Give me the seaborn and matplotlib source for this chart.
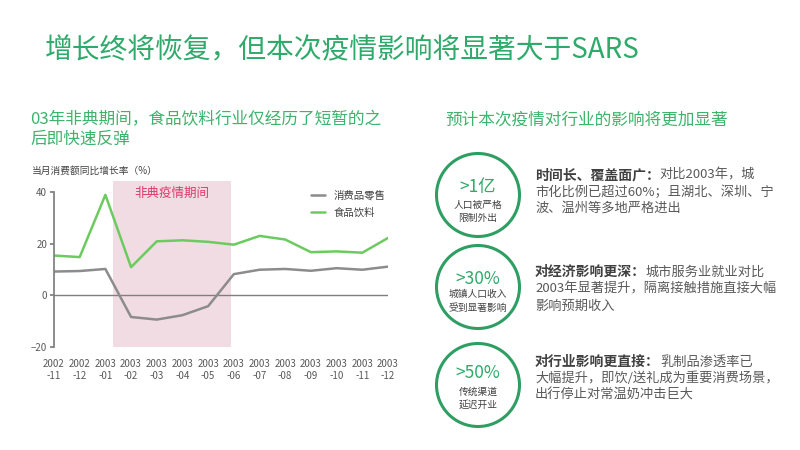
import pandas as pd
import matplotlib.pyplot as plt
import seaborn as sns
from matplotlib.patches import Circle

# 数据：当月消费额同比增长率（%）
months = ['2002\n-11', '2002\n-12', '2003\n-01', '2003\n-02', '2003\n-03', '2003\n-04', '2003\n-05',
          '2003\n-06', '2003\n-07', '2003\n-08', '2003\n-09', '2003\n-10', '2003\n-11', '2003\n-12']
retail = [9.2, 9.4, 10.2, -8.4, -9.4, -7.7, -4.2, 8.2, 9.9, 10.2, 9.5, 10.5, 9.9, 11.1]
food = [15.4, 14.8, 38.9, 10.9, 20.9, 21.3, 20.7, 19.6, 23.0, 21.6, 16.7, 17.0, 16.5, 22.2]
series_names = ['消费品零售', '食品饮料']
sars_period = (2.3, 6.9)

GREEN = '#2EAA6A'
DARK = '#404040'
GREY = '#595959'

sns.set_theme(style='white')
plt.rcParams['font.family'] = ['Noto Sans CJK SC', 'DejaVu Sans']

fig = plt.figure(figsize=(8, 4.5), dpi=100)

# 背景层（像素坐标）
ov = fig.add_axes([0, 0, 1, 1])
ov.set_xlim(0, 800)
ov.set_ylim(450, 0)
ov.axis('off')

# 折线图
ax = fig.add_axes([0.0675, 0.229, 0.4175, 0.369])
ax.patch.set_alpha(0)
x = list(range(len(months)))
df = pd.DataFrame({
    '月份': x * 2,
    '增长率': retail + food,
    '系列': [series_names[0]] * len(x) + [series_names[1]] * len(x),
})
sns.lineplot(data=df, x='月份', y='增长率', hue='系列', hue_order=series_names,
             palette={series_names[0]: '#8C8C8C', series_names[1]: '#6CCB5F'},
             linewidth=1.8, ax=ax)

ax.axvspan(*sars_period, color='#F2DCE3', zorder=0, lw=0)
ax.text(sum(sars_period) / 2, 39.5, '非典疫情期间', ha='center', va='center',
        fontsize=9, color='#D9386A', fontweight='medium')
ax.axhline(0, color='#7F7F7F', lw=1, zorder=1)

ax.set_xlim(0, len(months) - 1)
ax.set_ylim(-20, 44.3)
ax.set_yticks([-20, 0, 20, 40])
ax.set_xticks(x)
ax.set_xticklabels(months)
ax.set_xlabel('')
ax.set_ylabel('')
for s in ['top', 'right', 'bottom']:
    ax.spines[s].set_visible(False)
ax.spines['left'].set_bounds(-20, 40)
ax.spines['left'].set_color('#7F7F7F')
ax.tick_params(axis='y', left=True, length=3, color='#7F7F7F', labelsize=7, labelcolor=GREY, pad=2)
ax.tick_params(axis='x', bottom=False, labelsize=7, labelcolor=GREY, pad=3)

leg = ax.legend(loc='upper right', bbox_to_anchor=(1.02, 1.0), frameon=False, fontsize=7.5,
                handlelength=1.4, labelspacing=0.7)
for t in leg.get_texts():
    t.set_color(DARK)

# 文字
fig.text(45 / 800, 1 - 50 / 450, '增长终将恢复，但本次疫情影响将显著大于SARS',
         fontsize=20, color=GREEN, va='center')
fig.text(30 / 800, 1 - 120 / 450, '03年非典期间，食品饮料行业仅经历了短暂的之',
         fontsize=12, color='#3DB36B', va='center')
fig.text(30 / 800, 1 - 139 / 450, '后即快速反弹', fontsize=12, color='#3DB36B', va='center')
fig.text(32 / 800, 1 - 171 / 450, '当月消费额同比增长率（%）', fontsize=7, color=DARK, va='center')
fig.text(445 / 800, 1 - 120 / 450, '预计本次疫情对行业的影响将更加显著',
         fontsize=12, color='#3DB36B', va='center')

# 右侧三个要点
points = [
    dict(cy=195, big='>1亿', small=['人口被严格', '限制外出'], sy=[187, 205, 218],
         head='时间长、覆盖面广：', lines=['对比2003年，城', '市化比例已超过60%；且湖北、深圳、宁', '波、温州等多地严格进出'],
         ly=[175, 192, 208]),
    dict(cy=287, big='>30%', small=['城镇人口收入', '受到显著影响'], sy=[279, 294, 308],
         head='对经济影响更深：', lines=['城市服务业就业对比', '2003年显著提升，隔离接触措施直接大幅', '影响预期收入'],
         ly=[272, 289, 306]),
    dict(cy=385, big='>50%', small=['传统渠道', '延迟开业'], sy=[373, 392, 405],
         head='对行业影响更直接：', lines=['乳制品渗透率已', '大幅提升，即饮/送礼成为重要消费场景，', '出行停止对常温奶冲击巨大'],
         ly=[362, 378, 395]),
]

fig.canvas.draw()
renderer = fig.canvas.get_renderer()
for p in points:
    ov.add_patch(Circle((478, p['cy']), 41.5, fill=False, edgecolor='#2E9E62', lw=2.2))
    ov.text(478, p['sy'][0], p['big'], ha='center', va='center', fontsize=12.5, color=GREEN,
            fontweight='medium')
    for s, yy in zip(p['small'], p['sy'][1:]):
        ov.text(478, yy, s, ha='center', va='center', fontsize=7, color=DARK)
    h = ov.text(535, p['ly'][0], p['head'], ha='left', va='center', fontsize=10,
                fontweight='bold', color=DARK)
    bb = h.get_window_extent(renderer)
    ov.text(535 + bb.width, p['ly'][0], p['lines'][0], ha='left', va='center', fontsize=9.5, color=GREY)
    for s, yy in zip(p['lines'][1:], p['ly'][1:]):
        ov.text(535, yy, s, ha='left', va='center', fontsize=9.5, color=GREY)

fig.savefig('out.png', dpi=100)
